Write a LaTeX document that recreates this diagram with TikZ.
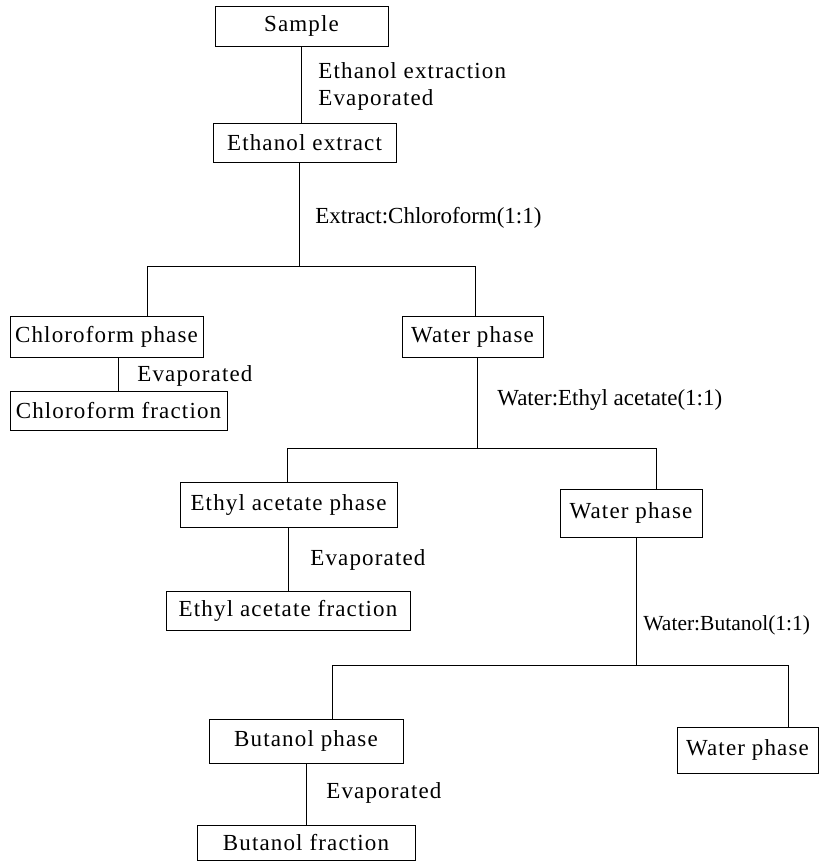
\documentclass[tikz,border=0pt]{standalone}
\usepackage{fontspec}
\setmainfont{Liberation Serif}[LetterSpace=5]
\newfontfamily\ratiofont{Liberation Serif}

\begin{document}
\begin{tikzpicture}[
    x=1pt, y=-1pt,
    line width=0.8pt,
    PBox/.style={
        draw,
        rectangle,
        inner sep=0pt,
        minimum height=40pt,
        font=\fontsize{23}{27}\selectfont
    },
    Lab/.style={
        anchor=west,
        inner sep=0pt,
        font=\fontsize{23}{27}\selectfont
    },
    Ratio/.style={
        Lab,
        font=\fontsize{23}{27}\ratiofont
    }
    ]
    \useasboundingbox (0,0) rectangle (829,861);

    \node[PBox,minimum width=173pt] (sample) at (301.5,26) {Sample};
    \node[PBox,minimum width=183pt,minimum height=39pt] (ethext) at (304.5,142.5) {Ethanol extract};
    \node[PBox,minimum width=193pt,minimum height=41pt] (chlph) at (106.5,336.5) {Chloroform phase};
    \node[PBox,minimum width=141pt,minimum height=41pt] (watph) at (472.5,336.5) {Water phase};
    \node[PBox,minimum width=217pt,minimum height=39pt] (chlfr) at (118.5,410.5) {Chloroform fraction};
    \node[PBox,minimum width=217pt,minimum height=45pt] (eaph) at (288.5,504.5) {Ethyl acetate phase};
    \node[PBox,minimum width=142pt,minimum height=48pt] (watphb) at (631,513) {Water phase};
    \node[PBox,minimum width=244pt,minimum height=39pt] (eafr) at (288,610.5) {Ethyl acetate fraction};
    \node[PBox,minimum width=194pt,minimum height=44pt] (buph) at (306,741) {Butanol phase};
    \node[PBox,minimum width=141pt,minimum height=46pt] (watphc) at (747.5,750) {Water phase};
    \node[PBox,minimum width=218pt,minimum height=35pt] (bufr) at (306,842.5) {Butanol fraction};

    \node[Lab] (lext) at (318,71) {Ethanol extraction};
    \node[Lab] (levap) at (318,100) {Evaporated};
    \node[Ratio] (lchl) at (315,218) {Extract:Chloroform(1:1)};
    \node[Lab] (levapa) at (137,376) {Evaporated};
    \node[Ratio] (lea) at (497,400) {Water:Ethyl acetate(1:1)};
    \node[Lab] (levapb) at (310,560) {Evaporated};
    \node[Ratio,font=\fontsize{21.5}{27}\ratiofont] (lbu) at (643,625) {Water:Butanol(1:1)};
    \node[Lab] (levapc) at (326,793) {Evaporated};

    \coordinate (bar1) at (299,266);
    \coordinate (b1l) at (147,266);
    \coordinate (b1r) at (475,266);
    \coordinate (bar2) at (477,448);
    \coordinate (b2l) at (287,448);
    \coordinate (b2r) at (656,448);
    \coordinate (bar3) at (636,665);
    \coordinate (b3l) at (332,665);
    \coordinate (b3r) at (788,665);

    \draw (sample.south) -- (sample.south |- ethext.north);
    \draw (ethext.south -| bar1) -- (bar1);
    \draw (chlph.north -| b1l) -- (b1l) -- (b1r) -- (watph.north -| b1r);
    \draw (chlfr.north) -- (chlfr.north |- chlph.south);
    \draw (watph.south -| bar2) -- (bar2);
    \draw (eaph.north -| b2l) -- (b2l) -- (b2r) -- (watphb.north -| b2r);
    \draw (eafr.north) -- (eafr.north |- eaph.south);
    \draw (watphb.south -| bar3) -- (bar3);
    \draw (buph.north -| b3l) -- (b3l) -- (b3r) -- (watphc.north -| b3r);
    \draw (bufr.north) -- (bufr.north |- buph.south);
\end{tikzpicture}
\end{document}
